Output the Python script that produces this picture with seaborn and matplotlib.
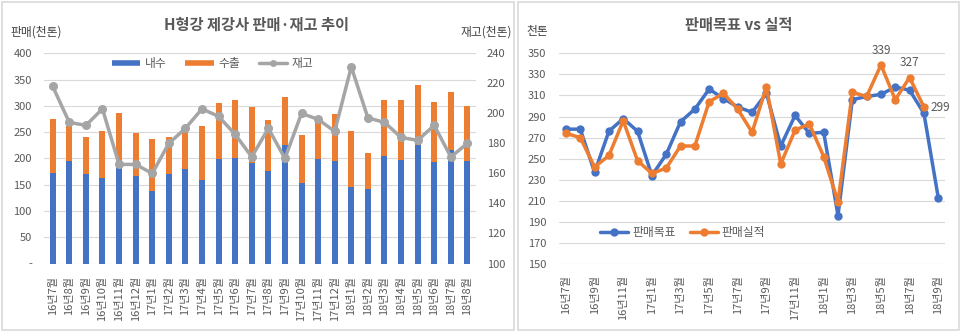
import numpy as np
import pandas as pd
import matplotlib
matplotlib.use("Agg")
import matplotlib.pyplot as plt
import seaborn as sns
from matplotlib.lines import Line2D
from matplotlib.patches import Rectangle
from matplotlib.ticker import FixedLocator, FuncFormatter

# ---- data (천톤) ----
sales_months = ["16년7월", "16년8월", "16년9월", "16년10월", "16년11월", "16년12월",
                "17년1월", "17년2월", "17년3월", "17년4월", "17년5월", "17년6월",
                "17년7월", "17년8월", "17년9월", "17년10월", "17년11월", "17년12월",
                "18년1월", "18년2월", "18년3월", "18년4월", "18년5월", "18년6월",
                "18년7월", "18년8월"]
domestic = [173, 195, 171, 163, 182, 167, 138, 171, 179, 159, 198, 201, 191,
            176, 226, 154, 199, 195, 146, 141, 205, 197, 226, 194, 216, 195]
export = [102, 67, 70, 90, 104, 82, 98, 70, 80, 103, 107, 111, 106,
          98, 91, 91, 70, 90, 107, 69, 107, 114, 113, 113, 111, 104]
inventory = [218, 194, 192, 203, 166, 166, 160, 180, 190, 203, 198, 186, 171,
             190, 170, 200, 196, 188, 231, 197, 194, 184, 182, 192, 171, 180]

plan_months = sales_months + ["18년9월"]
sales_target = [278, 278, 237, 276, 288, 276, 234, 254, 285, 297, 316, 307, 299, 294,
                312, 262, 291, 274, 275, 196, 306, 309, 311, 318, 315, 293, 213]
sales_actual = [274, 270, 242, 253, 286, 248, 236, 241, 262, 262, 304, 312, 297,
                275, 318, 245, 277, 283, 252, 209, 313, 309, 339, 306, 327, 299]
labelled_points = [22, 24, 25]

BLUE = "#4472C4"
ORANGE = "#ED7D31"
GRAY = "#A5A5A5"
TXT = "#595959"
GRID = "#D9D9D9"

sns.set_theme(style="white")
plt.rcParams["font.family"] = ["Noto Sans CJK KR", "DejaVu Sans"]
plt.rcParams["axes.unicode_minus"] = False

W, H = 960, 333
fig = plt.figure(figsize=(W / 100, H / 100), dpi=100)


def fx(px):
    return px / W


def fy(py):
    return 1 - py / H


def axes_box(x0, x1, ytop, ybot):
    return [fx(x0), fy(ybot), (x1 - x0) / W, (ybot - ytop) / H]


# panel frames
for x0, x1 in [(1.5, 514), (517.5, 958.5)]:
    fig.patches.append(Rectangle((fx(x0), fy(330)), (x1 - x0) / W, (330 - 1.5) / H,
                                 transform=fig.transFigure, fill=False,
                                 edgecolor=GRID, lw=1.2))

# ================= left: sales / inventory =================
df = pd.DataFrame({"월": sales_months, "내수": domestic, "수출": export})
df["합계"] = df["내수"] + df["수출"]

ax1 = fig.add_axes(axes_box(44.4, 475.7, 53.3, 263.5))
sns.barplot(data=df, x="월", y="합계", color=ORANGE, saturation=1, width=0.36,
            linewidth=0, ax=ax1)
sns.barplot(data=df, x="월", y="내수", color=BLUE, saturation=1, width=0.36,
            linewidth=0, ax=ax1)
ax1.set_ylim(0, 400)
ax1.set_xlim(-0.5, len(sales_months) - 0.5)
ax1.yaxis.set_major_locator(FixedLocator(range(0, 401, 50)))
ax1.yaxis.set_major_formatter(FuncFormatter(lambda v, p: "-" if v == 0 else f"{v:.0f}"))
ax1.grid(axis="y", color=GRID, lw=0.8)
ax1.set_axisbelow(True)
ax1.set_xlabel("")
ax1.set_ylabel("")
for s in ax1.spines.values():
    s.set_visible(False)
ax1.tick_params(axis="y", length=0, pad=9, labelsize=8, labelcolor=TXT)
ax1.tick_params(axis="x", length=0, pad=9, labelsize=8, labelcolor=TXT, rotation=90)

ax2 = ax1.twinx()
sns.lineplot(x=np.arange(len(inventory)), y=inventory, ax=ax2, color=GRAY, lw=2.5,
             marker="o", markersize=6.5, markeredgewidth=0, markerfacecolor=GRAY)
ax2.set_ylim(100, 240)
ax2.set_xlim(-0.5, len(sales_months) - 0.5)
ax2.yaxis.set_major_locator(FixedLocator(range(100, 241, 20)))
ax2.set_ylabel("")
for s in ax2.spines.values():
    s.set_visible(False)
ax2.tick_params(axis="y", length=0, pad=8, labelsize=8, labelcolor=TXT)

left_handles = [
    Line2D([], [], color=BLUE, lw=4, solid_capstyle="butt"),
    Line2D([], [], color=ORANGE, lw=4, solid_capstyle="butt"),
    Line2D([], [], color=GRAY, lw=2.5, marker="o", markersize=5, markeredgewidth=0),
]
ax2.legend(left_handles, ["내수", "수출", "재고"], loc="center", ncol=3,
           bbox_to_anchor=(0.39, 0.952), frameon=False, fontsize=8.5,
           handlelength=2.4, columnspacing=1.6, handletextpad=0.4,
           labelcolor=TXT)

fig.text(fx(257), fy(25), "H형강 제강사 판매·재고 추이", ha="center", va="center",
         fontsize=11, fontweight="bold", color=TXT)
fig.text(fx(10), fy(32), "판매(천톤)", ha="left", va="center", fontsize=8.5, color="#404040")
fig.text(fx(512), fy(32), "재고(천톤)", ha="right", va="center", fontsize=8.5, color="#404040")

# ================= right: target vs actual =================
ax3 = fig.add_axes(axes_box(558.8, 945.4, 53.3, 264))
sns.lineplot(x=np.arange(len(sales_target)), y=sales_target, ax=ax3, color=BLUE,
             lw=2.5, marker="o", markersize=6, markeredgewidth=0, label="판매목표")
sns.lineplot(x=np.arange(len(sales_actual)), y=sales_actual, ax=ax3, color=ORANGE,
             lw=2.5, marker="o", markersize=6, markeredgewidth=0, label="판매실적")
ax3.set_ylim(150, 350)
ax3.set_xlim(-0.5, len(plan_months) - 0.5)
ax3.yaxis.set_major_locator(FixedLocator(range(150, 351, 20)))
ax3.set_xticks(np.arange(0, len(plan_months), 2))
ax3.set_xticklabels(plan_months[::2])
ax3.grid(axis="y", color=GRID, lw=0.8)
ax3.set_axisbelow(True)
ax3.set_ylabel("")
for s in ax3.spines.values():
    s.set_visible(False)
ax3.tick_params(axis="y", length=0, pad=9, labelsize=8, labelcolor=TXT)
ax3.tick_params(axis="x", length=0, pad=8, labelsize=8, labelcolor=TXT, rotation=90)

for i in labelled_points:
    if i == len(sales_actual) - 1:
        ax3.annotate(f"{sales_actual[i]}", (i, sales_actual[i]), xytext=(5, 0),
                     textcoords="offset points", ha="left", va="center",
                     fontsize=8.5, color=TXT)
    else:
        ax3.annotate(f"{sales_actual[i]}", (i, sales_actual[i]), xytext=(0, 6),
                     textcoords="offset points", ha="center", va="bottom",
                     fontsize=8.5, color=TXT)

ax3.legend(loc="center", ncol=2, bbox_to_anchor=(0.32, 0.149), frameon=False,
           fontsize=8.5, handlelength=2.4, columnspacing=1.2, handletextpad=0.3,
           labelcolor=TXT)

fig.text(fx(739), fy(25), "판매목표 vs 실적", ha="center", va="center",
         fontsize=11, fontweight="bold", color=TXT)
fig.text(fx(526), fy(32), "천톤", ha="left", va="center", fontsize=8.5, color="#404040")

fig.savefig("out.png", dpi=100)
